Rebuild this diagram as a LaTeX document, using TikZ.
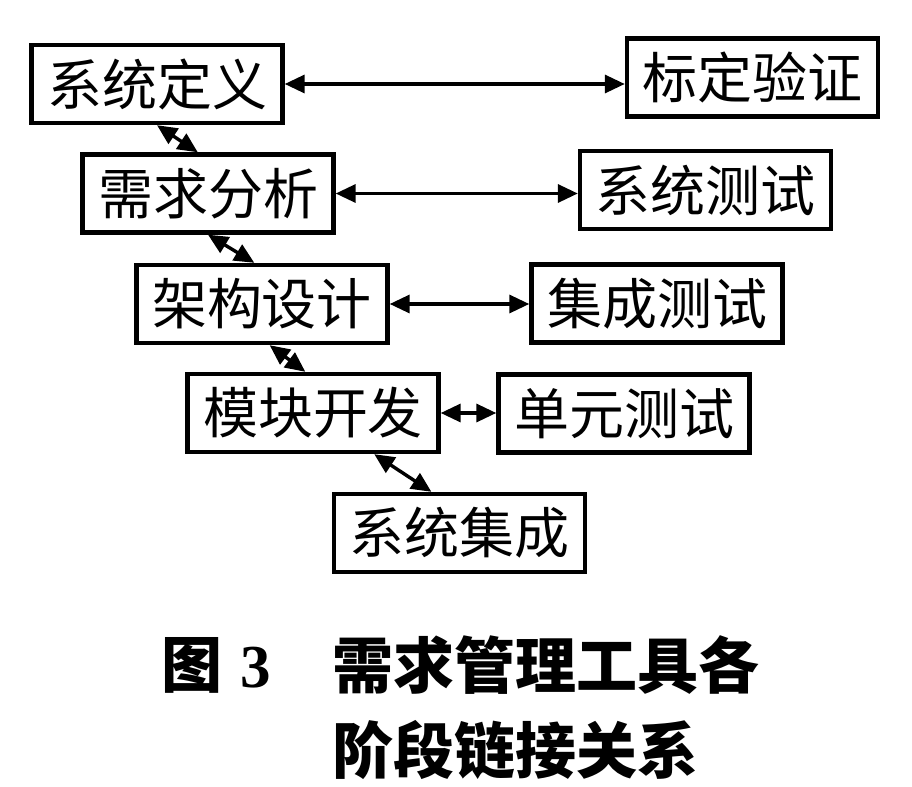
\documentclass[tikz,border=0pt]{standalone}
\usepackage{fontspec}
\setmainfont{Noto Sans CJK SC}
\newfontfamily\numfont{Liberation Serif}
\usepackage{tikz}
\usetikzlibrary{positioning, calc, arrows.meta}
\newcommand{\boxfont}{\fontsize{27.5pt}{27.5pt}\selectfont}
\newcommand{\capfont}{\fontsize{30.5pt}{30.5pt}\selectfont\bfseries}

\begin{document}
\begin{tikzpicture}[x=0.5pt, y=-0.5pt]

	\tikzstyle{stagebox}=[draw=black, line width=2.2pt, minimum width=125.5pt, minimum height=39pt, inner sep=0pt, fill=white, text=black, font=\boxfont]
	\tikzstyle{linkarrow}=[{Triangle[length=10pt,width=9pt]}-{Triangle[length=10pt,width=9pt]}, line width=1.7pt]
	\tikzstyle{captext}=[anchor=west, inner sep=0pt, font=\capfont]

	\useasboundingbox (0,0) rectangle (912,787);

	%% left branch of the V
	\node (sysdefnode) at (157,84) [stagebox] {系统定义};
	\node (reqnode) at (208,193.5) [stagebox] {需求分析};
	\node (archnode) at (262,304) [stagebox] {架构设计};
	\node (modnode) at (313,413) [stagebox] {模块开发};
	\node (sysintnode) at (459.5,533) [stagebox] {系统集成};

	%% right branch of the V
	\node (calibnode) at (752.5,77.5) [stagebox] {标定验证};
	\node (systestnode) at (705.5,190) [stagebox] {系统测试};
	\node (inttestnode) at (657,303.5) [stagebox] {集成测试};
	\node (unittestnode) at (624,413.5) [stagebox] {单元测试};

	\draw [linkarrow] (sysdefnode.east) -- (sysdefnode.east -| calibnode.west);
	\draw [linkarrow] (reqnode.east) -- (reqnode.east -| systestnode.west);
	\draw [linkarrow] (archnode.east) -- (archnode.east -| inttestnode.west);
	\draw [linkarrow] (modnode.east) -- (modnode.east -| unittestnode.west);

	\draw [linkarrow] (sysdefnode.south) -- ($(reqnode.north west)!0.46!(reqnode.north east)$);
	\draw [linkarrow] (reqnode.south) -- ($(archnode.north west)!0.47!(archnode.north east)$);
	\draw [linkarrow] ($(archnode.south west)!0.53!(archnode.south east)$) -- ($(modnode.north west)!0.47!(modnode.north east)$);
	\draw [linkarrow] ($(modnode.south west)!0.74!(modnode.south east)$) -- ($(sysintnode.north west)!0.39!(sysintnode.north east)$);

	\node (fignum) at (161,665) [captext] {图\hspace{9pt}{\numfont 3}};
	\node (capline1) at (332,665) [captext] {需求管理工具各};
	\node (capline2) at (332,750) [captext] {阶段链接关系};
\end{tikzpicture}
\end{document}
